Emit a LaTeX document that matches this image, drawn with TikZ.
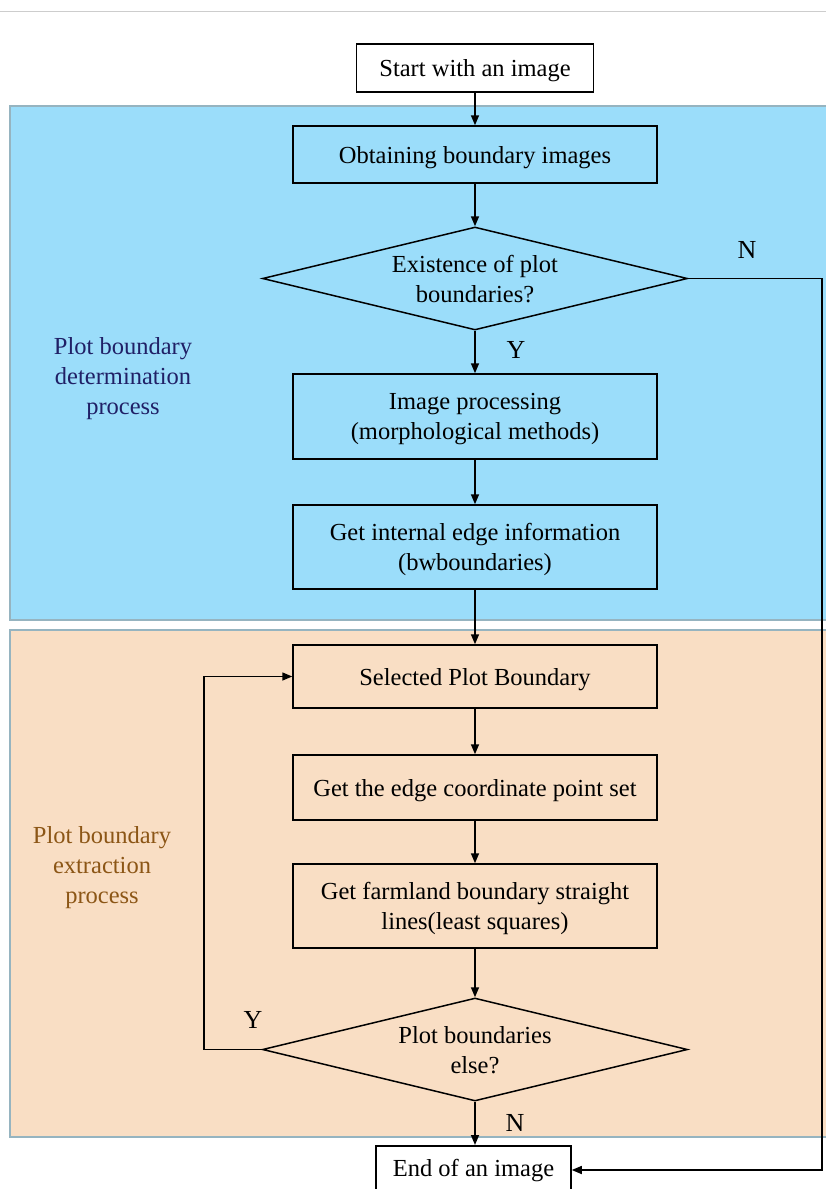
\documentclass[tikz,border=0pt]{standalone}
\usepackage{fontspec}
\setmainfont{Liberation Serif}
\usetikzlibrary{shapes.geometric,arrows.meta}
\definecolor{zoneblue}{RGB}{155,221,250}
\definecolor{zoneorange}{RGB}{249,222,196}
\definecolor{zoneedge}{RGB}{150,180,192}
\definecolor{navytext}{RGB}{32,32,102}
\definecolor{browntext}{RGB}{140,86,22}
\definecolor{ruleline}{RGB}{205,205,205}
\tikzset{
  boxfont/.style={font=\fontsize{24.5}{30}\selectfont, text depth=0pt},
  stepbox/.style={draw=black, line width=1.5pt, minimum width=364pt, align=center,
    boxfont, inner sep=0pt},
  termbox/.style={draw=black, line width=1.5pt, align=center, boxfont, inner sep=0pt},
  decision/.style={draw=black, line width=1.5pt, diamond, aspect=4.1, inner sep=0pt,
    minimum width=425pt, minimum height=103pt, align=center, boxfont},
  flow/.style={line width=1.5pt, -{Triangle[length=10pt,width=8pt]}},
  yn/.style={font=\fontsize{26}{30}\selectfont},
  zone/.style={line width=1.2pt, draw=zoneedge},
}
\begin{document}
\begin{tikzpicture}[x=1pt,y=-1pt]
\useasboundingbox (0,0) rectangle (826,1189);
\clip (0,0) rectangle (826,1189);
\fill[white] (0,0) rectangle (826,1189);
% thin rule across the top
\draw[ruleline, line width=1pt] (0,11) -- (826,11);
% shaded process zones
\filldraw[zone, fill=zoneblue] (10,106) rectangle (840,620);
\filldraw[zone, fill=zoneorange] (10,630) rectangle (840,1137);
\node[navytext, align=center, boxfont] (zoneA) at (123,376)
  {Plot boundary\\determination\\process};
\node[browntext, align=center, boxfont] (zoneB) at (102,865)
  {Plot boundary\\extraction\\process};
% flow steps
\node[termbox, fill=white, minimum width=237pt, minimum height=48pt] (start) at (475,68) {Start with an image};
\node[stepbox, minimum height=57pt] (obtain) at (475,154.5) {Obtaining boundary images};
\node[decision] (exist) at (475,278.5) {Existence of plot\\boundaries?};
\node[stepbox, minimum height=85pt] (proc) at (475,416.5) {Image processing\\(morphological methods)};
\node[stepbox, minimum height=84pt] (edge) at (475,547) {Get internal edge information\\(bwboundaries)};
\node[stepbox, minimum height=63pt] (select) at (475,676.5) {Selected Plot Boundary};
\node[stepbox, minimum height=65pt] (coord) at (475,787.5) {Get the edge coordinate point set};
\node[stepbox, minimum height=84pt] (lines) at (475,906) {Get farmland boundary straight\\lines(least squares)};
\node[decision] (more) at (475,1049.5) {Plot boundaries\\else?};
\node[termbox, fill=white, minimum width=195pt, minimum height=56pt, anchor=north] (finish) at (473.5,1145)
  {\raisebox{12pt}{End of an image}};
% connectors
\draw[flow] (start) -- (obtain);
\draw[flow] (obtain) -- (exist);
\draw[flow] (exist) -- (proc);
\draw[flow] (proc) -- (edge);
\draw[flow] (edge) -- (select);
\draw[flow] (select) -- (coord);
\draw[flow] (coord) -- (lines);
\draw[flow] (lines) -- (more);
\draw[flow] (more.south) -- (more.south |- finish.north);
\coordinate (loopL) at (204,1049.5);
\draw[flow] (more.west) -- (loopL) |- (select.west);
\coordinate (rightR) at (822,278.5);
\draw[flow] (exist.east) -- (rightR) |- (finish.east |- 0,1170);
% branch labels
\node[yn] (nTop) at (747,250) {N};
\node[yn] (yTop) at (516,350) {Y};
\node[yn] (yLoop) at (253,1020) {Y};
\node[yn] (nBot) at (515,1123) {N};
\end{tikzpicture}
\end{document}
